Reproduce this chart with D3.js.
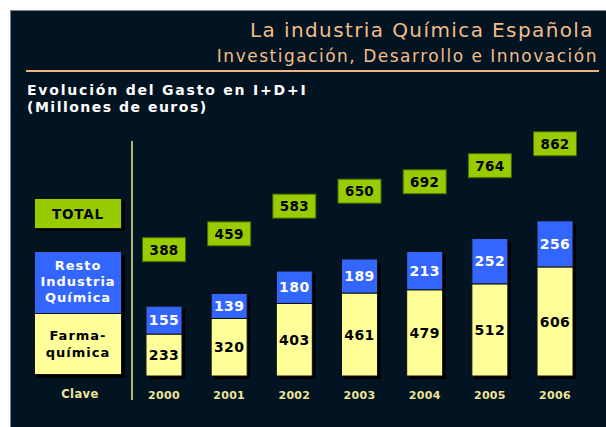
<!DOCTYPE html>
<html>
<head>
<meta charset="utf-8">
<script src="https://cdn.jsdelivr.net/npm/d3@7"></script>
<style>
  body { margin: 0; padding: 0; background: #ffffff; }
  svg { display: block; }
</style>
</head>
<body>
<script>
var years = ['2000', '2001', '2002', '2003', '2004', '2005', '2006'];
var farma = [233, 320, 403, 461, 479, 512, 606];
var resto = [155, 139, 180, 189, 213, 252, 256];
var totals = [388, 459, 583, 650, 692, 764, 862];

var W = 606, H = 427;
var bgColor = '#021322';
var blue = '#3366ff';
var yellow = '#ffff99';
var green = '#99cc00';
var peach = '#f2bd88';
var yearColor = '#ece59a';
var font = '"DejaVu Sans", Verdana, sans-serif';

var svg = d3.select('body').append('svg')
  .attr('width', W)
  .attr('height', H);

// dark panel
svg.append('rect')
  .attr('x', 10.5).attr('y', 10.5)
  .attr('width', W).attr('height', H)
  .attr('fill', bgColor)
  .attr('stroke', '#7d8796');

// titles
svg.append('text')
  .attr('x', 594).attr('y', 37)
  .attr('text-anchor', 'end')
  .style('font-family', font).style('font-size', '20px')
  .style('letter-spacing', '1.4px')
  .attr('fill', peach)
  .text('La industria Química Española');

svg.append('text')
  .attr('x', 598).attr('y', 62)
  .attr('text-anchor', 'end')
  .style('font-family', font).style('font-size', '17px')
  .style('letter-spacing', '1.5px')
  .attr('fill', peach)
  .text('Investigación, Desarrollo e Innovación');

svg.append('line')
  .attr('x1', 26).attr('x2', 599)
  .attr('y1', 71).attr('y2', 71)
  .attr('stroke', '#f0b478').attr('stroke-width', 2);

svg.append('text')
  .attr('x', 27).attr('y', 95)
  .style('font-family', font).style('font-size', '14px')
  .style('font-weight', 'bold').style('letter-spacing', '1.8px')
  .attr('fill', '#ffffff')
  .text('Evolución del Gasto en I+D+I');

svg.append('text')
  .attr('x', 27).attr('y', 112)
  .style('font-family', font).style('font-size', '14px')
  .style('font-weight', 'bold').style('letter-spacing', '1.5px')
  .attr('fill', '#ffffff')
  .text('(Millones de euros)');

// divider
svg.append('line')
  .attr('x1', 132).attr('x2', 132)
  .attr('y1', 141).attr('y2', 400)
  .attr('stroke', '#b4b474').attr('stroke-width', 2);

// scales
var x = d3.scaleBand()
  .domain(years)
  .range([146, 573])
  .paddingInner(0.448)
  .paddingOuter(0);

var y = d3.scaleLinear()
  .domain([0, 900])
  .range([376, 214]);

var yLabel = d3.scaleLinear()
  .domain([0, 900])
  .range([336.4, 135.3]);

var rows = years.map(function(yr, i) {
  return { year: yr, farma: farma[i], resto: resto[i], total: totals[i] };
});

var g = svg.selectAll('g.bar')
  .data(rows)
  .enter().append('g')
  .attr('class', 'bar');

// shadow
g.append('rect')
  .attr('x', function(d) { return x(d.year) + 3; })
  .attr('y', function(d) { return y(d.total) + 3; })
  .attr('width', x.bandwidth())
  .attr('height', function(d) { return y(0) - y(d.total); })
  .attr('fill', '#000000');

g.append('rect')
  .attr('x', function(d) { return x(d.year); })
  .attr('y', function(d) { return y(d.farma); })
  .attr('width', x.bandwidth())
  .attr('height', function(d) { return y(0) - y(d.farma); })
  .attr('fill', yellow)
  .attr('stroke', '#111111').attr('stroke-width', 1);

g.append('rect')
  .attr('x', function(d) { return x(d.year); })
  .attr('y', function(d) { return y(d.total); })
  .attr('width', x.bandwidth())
  .attr('height', function(d) { return y(d.farma) - y(d.total); })
  .attr('fill', blue)
  .attr('stroke', '#111111').attr('stroke-width', 1);

g.append('text')
  .attr('x', function(d) { return x(d.year) + x.bandwidth() / 2; })
  .attr('y', function(d) { return (y(0) + y(d.farma)) / 2; })
  .attr('dy', '0.36em')
  .attr('text-anchor', 'middle')
  .style('font-family', font).style('font-size', '14px')
  .style('font-weight', 'bold').style('letter-spacing', '0.4px')
  .attr('fill', '#000000')
  .text(function(d) { return d.farma; });

g.append('text')
  .attr('x', function(d) { return x(d.year) + x.bandwidth() / 2; })
  .attr('y', function(d) { return (y(d.farma) + y(d.total)) / 2; })
  .attr('dy', '0.36em')
  .attr('text-anchor', 'middle')
  .style('font-family', font).style('font-size', '14px')
  .style('font-weight', 'bold').style('letter-spacing', '0.4px')
  .attr('fill', '#ffffff')
  .text(function(d) { return d.resto; });

// total boxes
g.append('rect')
  .attr('x', function(d) { return x(d.year) + x.bandwidth() / 2 - 21.5; })
  .attr('y', function(d) { return yLabel(d.total) - 12; })
  .attr('width', 43).attr('height', 24)
  .attr('fill', green)
  .attr('stroke', '#4a6a00').attr('stroke-width', 1);

g.append('text')
  .attr('x', function(d) { return x(d.year) + x.bandwidth() / 2; })
  .attr('y', function(d) { return yLabel(d.total); })
  .attr('dy', '0.36em')
  .attr('text-anchor', 'middle')
  .style('font-family', font).style('font-size', '13.5px')
  .style('font-weight', 'bold').style('letter-spacing', '0.3px')
  .attr('fill', '#000000')
  .text(function(d) { return d.total; });

// year axis
var xAxis = svg.append('g')
  .attr('transform', 'translate(0,' + 399 + ')')
  .call(d3.axisBottom(x).tickSize(0).tickPadding(0));
xAxis.select('.domain').remove();
xAxis.selectAll('text')
  .attr('dy', 0).attr('y', 0)
  .style('font-family', font).style('font-size', '11px')
  .style('font-weight', 'bold').style('letter-spacing', '0.3px')
  .attr('fill', yearColor);

// legend
var legend = svg.append('g');

legend.append('rect')
  .attr('x', 37).attr('y', 201).attr('width', 88).attr('height', 30)
  .attr('fill', '#000000');
legend.append('rect')
  .attr('x', 34.5).attr('y', 198.5).attr('width', 87).attr('height', 30)
  .attr('fill', green).attr('stroke', '#111111');
legend.append('text')
  .attr('x', 78).attr('y', 218.5)
  .attr('text-anchor', 'middle')
  .style('font-family', font).style('font-size', '13.5px')
  .style('font-weight', 'bold').style('letter-spacing', '0.8px')
  .attr('fill', '#000000')
  .text('TOTAL');

legend.append('rect')
  .attr('x', 37).attr('y', 255).attr('width', 88).attr('height', 123)
  .attr('fill', '#000000');
legend.append('rect')
  .attr('x', 34.5).attr('y', 313.5).attr('width', 87).attr('height', 61)
  .attr('fill', yellow).attr('stroke', '#111111');
legend.append('rect')
  .attr('x', 34.5).attr('y', 251.5).attr('width', 87).attr('height', 62)
  .attr('fill', blue).attr('stroke', '#111111');

var restoLines = ['Resto', 'Industria', 'Química'];
legend.selectAll('text.resto')
  .data(restoLines)
  .enter().append('text')
  .attr('class', 'resto')
  .attr('x', 78)
  .attr('y', function(d, i) { return 270 + i * 16; })
  .attr('text-anchor', 'middle')
  .style('font-family', font).style('font-size', '13px')
  .style('font-weight', 'bold').style('letter-spacing', '1px')
  .attr('fill', '#ffffff')
  .text(function(d) { return d; });

var farmaLines = ['Farma-', 'química'];
legend.selectAll('text.farma')
  .data(farmaLines)
  .enter().append('text')
  .attr('class', 'farma')
  .attr('x', 78)
  .attr('y', function(d, i) { return 340 + i * 17; })
  .attr('text-anchor', 'middle')
  .style('font-family', font).style('font-size', '13px')
  .style('font-weight', 'bold').style('letter-spacing', '1px')
  .attr('fill', '#000000')
  .text(function(d) { return d; });

legend.append('text')
  .attr('x', 80).attr('y', 398)
  .attr('text-anchor', 'middle')
  .style('font-family', font).style('font-size', '11.5px')
  .style('font-weight', 'bold').style('letter-spacing', '0.4px')
  .attr('fill', yearColor)
  .text('Clave');
</script>
</body>
</html>
